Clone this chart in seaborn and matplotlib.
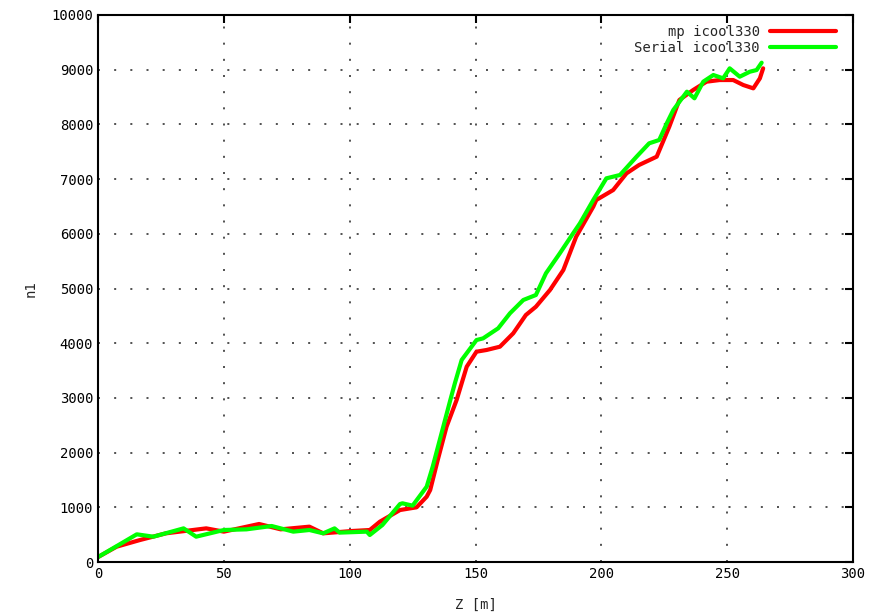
import numpy as np
import pandas as pd
import matplotlib
matplotlib.use("Agg")
import matplotlib.pyplot as plt
import seaborn as sns

# mp icool330 (red)
z_mp = [0, 7.4, 16.7, 27, 43, 50, 64, 72.6, 84, 89.5, 101, 108, 112, 120, 126.6,
        130.6, 132, 135, 138.5, 142.5, 146.5, 150.4, 154.4, 159.7, 165, 170, 174,
        179.6, 184.9, 190, 196.8, 198, 204.7, 210, 215, 222, 227, 231, 236.5,
        241.8, 247, 252.4, 256.4, 260.4, 263, 264.3]
n_mp = [90, 280, 402, 524, 615, 555, 695, 597, 646, 524, 567, 585, 737, 950, 1000,
        1194, 1316, 1865, 2474, 2962, 3570, 3845, 3876, 3936, 4181, 4515, 4667,
        4973, 5338, 5947, 6496, 6618, 6800, 7105, 7258, 7410, 7958, 8446, 8629,
        8781, 8811, 8811, 8720, 8659, 8842, 9025]

# Serial icool330 (green)
z_ser = [0, 15.4, 22, 34, 39, 50, 59, 69, 77.6, 84, 89.5, 94, 96, 106.8, 108, 113,
         120, 121, 125, 130.6, 133, 136.5, 140, 141.8, 144.5, 150.4, 153, 159,
         163.7, 169, 174, 178, 183.5, 188.8, 191.5, 196.8, 202, 207.4, 214, 219,
         223, 226, 228.6, 234, 237, 240.5, 244.5, 248.4, 251, 255, 259, 261.7, 263.7]
n_ser = [90, 506, 463, 615, 463, 585, 597, 658, 555, 585, 524, 615, 537, 555, 494, 676,
         1060, 1073, 1030, 1377, 1743, 2353, 2962, 3267, 3693, 4058, 4088, 4272,
         4547, 4790, 4881, 5278, 5643, 6009, 6192, 6618, 7014, 7075, 7410, 7654,
         7715, 8020, 8263, 8598, 8477, 8781, 8903, 8842, 9025, 8872, 8963, 8994, 9128]

df = pd.concat([
    pd.DataFrame({"Z": z_mp, "n1": n_mp, "run": "mp icool330"}),
    pd.DataFrame({"Z": z_ser, "n1": n_ser, "run": "Serial icool330"}),
])

sns.set_style("white")
plt.rcParams["font.family"] = ["DejaVu Sans Mono", "DejaVu Sans"]

fig = plt.figure(figsize=(8.69, 6.13), dpi=100)
ax = fig.add_axes([98 / 869, 1 - 562 / 613, 755 / 869, 547 / 613])

sns.lineplot(data=df, x="Z", y="n1", hue="run", sort=False,
             palette={"mp icool330": "#ff0000", "Serial icool330": "#00ff00"},
             linewidth=3, ax=ax)

ax.set_xlim(0, 300)
ax.set_ylim(0, 10000)
ax.set_xticks(np.arange(0, 301, 50))
ax.set_yticks(np.arange(0, 10001, 1000))
ax.grid(True, color="#333333", linestyle=(0, (1.2, 8.5)), linewidth=1.2)
ax.tick_params(direction="in", length=6, width=1.5, top=True, right=True,
               labelsize=10, colors="black")
for s in ax.spines.values():
    s.set_linewidth(1.5)
    s.set_color("black")
ax.set_xlabel("Z [m]", fontsize=10, labelpad=12)
ax.set_ylabel("n1", fontsize=10, labelpad=10)

leg = ax.legend(loc="upper right", bbox_to_anchor=(0.978, 0.982),
                frameon=False, markerfirst=False, fontsize=10,
                handlelength=4.8, handletextpad=0.7, borderaxespad=0,
                borderpad=0, labelspacing=0.15, title=None)

fig.savefig("out.png", dpi=100)
